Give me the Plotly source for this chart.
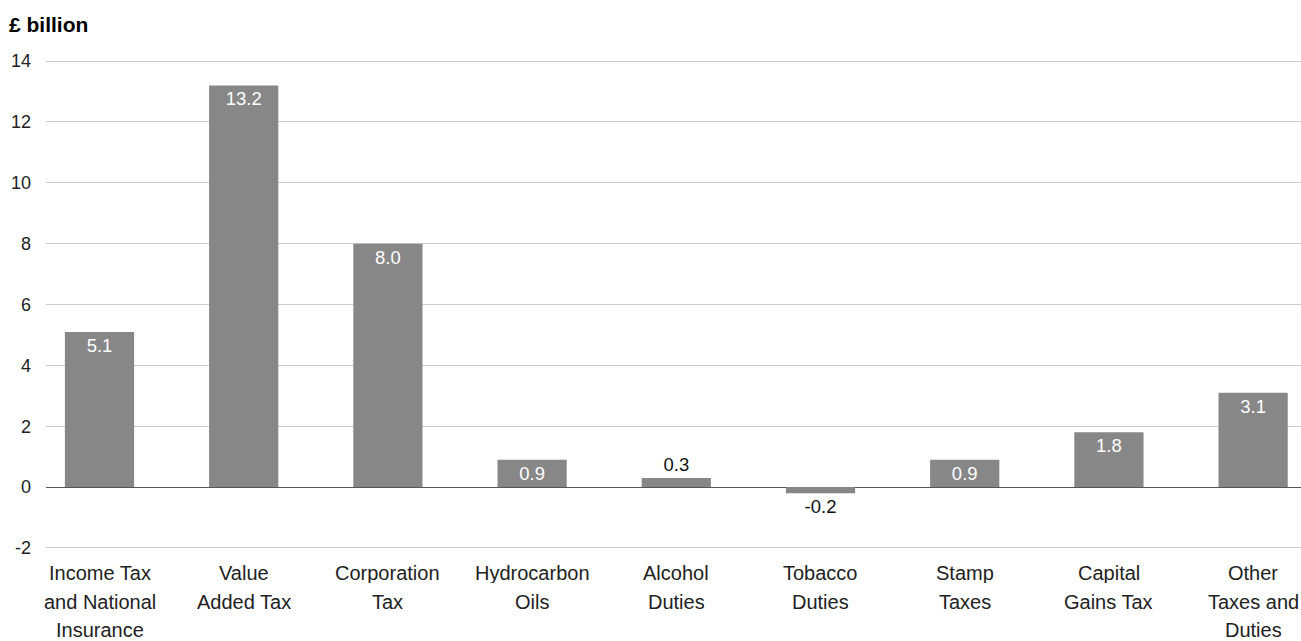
import plotly.graph_objects as go

categories = ["Income Tax<br>and National<br>Insurance", "Value<br>Added Tax", "Corporation<br>Tax",
              "Hydrocarbon<br>Oils", "Alcohol<br>Duties", "Tobacco<br>Duties", "Stamp<br>Taxes",
              "Capital<br>Gains Tax", "Other<br>Taxes and<br>Duties"]
values = [5.1, 13.2, 8.0, 0.9, 0.3, -0.2, 0.9, 1.8, 3.1]
y_ticks = [-2, 0, 2, 4, 6, 8, 10, 12, 14]

FONT = "Liberation Sans, Arial, sans-serif"
xs = list(range(len(categories)))
positions = ["outside" if abs(v) < 0.5 else "inside" for v in values]
colors = ["#111111" if p == "outside" else "white" for p in positions]

fig = go.Figure()
fig.add_trace(go.Bar(
    x=xs, y=values, width=0.48,
    marker=dict(color="#878787", line=dict(width=0)),
    text=[f"{v:.1f}" for v in values],
    textposition=positions,
    insidetextanchor="end",
    textfont=dict(color=colors, size=18.5, family=FONT),
    cliponaxis=False,
    constraintext="none",
))

for i, lab in enumerate(categories):
    for j, line in enumerate(lab.split("<br>")):
        fig.add_annotation(x=i, xref="x", y=0, yref="paper", text=line, showarrow=False,
                           yanchor="top", yshift=-9 - 28.5 * j, height=21,
                           font=dict(size=20, color="#222222", family=FONT))

fig.add_annotation(x=0, xref="paper", xanchor="left", y=1, yref="paper", yanchor="bottom",
                   xshift=-39, yshift=20, text="<b>£ billion</b>", showarrow=False,
                   font=dict(size=21, color="#000000", family=FONT))

fig.update_layout(
    width=1301, height=641,
    margin=dict(l=46, r=0, t=58, b=90),
    paper_bgcolor="white", plot_bgcolor="white",
    showlegend=False,
    font=dict(family=FONT, color="#222222"),
    xaxis=dict(range=[-0.371, 8.332], showticklabels=False, showgrid=False, zeroline=False,
               tickvals=xs),
    yaxis=dict(range=[-2.1, 14.1], tickvals=y_ticks, ticktext=[str(t) for t in y_ticks],
               showgrid=True, gridcolor="#cccccc", gridwidth=1,
               zeroline=True, zerolinecolor="#555555", zerolinewidth=1.3,
               tickfont=dict(size=18, color="#222222", family=FONT), ticks="", ticklabelstandoff=14),
)

fig.write_html("out.html")
